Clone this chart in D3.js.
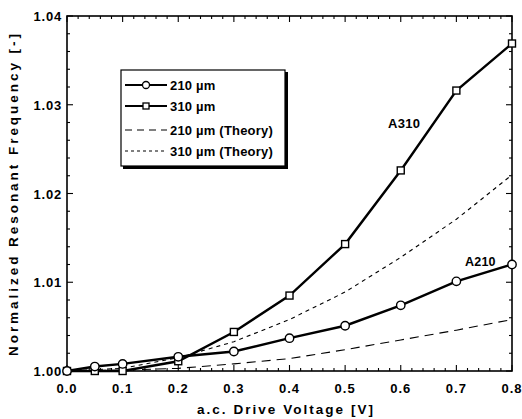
<!DOCTYPE html>
<html>
<head>
<meta charset="utf-8">
<script src="https://cdn.jsdelivr.net/npm/d3@7"></script>
<style>
  body { margin: 0; background: #fff; }
  text { font-family: "Liberation Sans", Arial, sans-serif; font-weight: bold; fill: #000; }
</style>
</head>
<body>
<div id="chart"></div>
<script>
const width = 522;
const height = 419;
const margin = { top: 16, right: 10, bottom: 48, left: 67 };

// measured points
const volt210 = [0.0, 0.05, 0.1, 0.2, 0.3, 0.4, 0.5, 0.6, 0.7, 0.8];
const freq210 = [1.0000, 1.0005, 1.0008, 1.0016, 1.0022, 1.0037, 1.0051, 1.0074, 1.0101, 1.0120];
const volt310 = [0.0, 0.05, 0.1, 0.2, 0.3, 0.4, 0.5, 0.6, 0.7, 0.8];
const freq310 = [1.0000, 1.0000, 1.0000, 1.0011, 1.0044, 1.0085, 1.0143, 1.0226, 1.0316, 1.0369];

// theory curves
const voltTheory = [0.0, 0.1, 0.2, 0.3, 0.4, 0.5, 0.6, 0.7, 0.8];
const theory210 = [1.0000, 1.0001, 1.0003, 1.0008, 1.0014, 1.0024, 1.0035, 1.0046, 1.0058];
const theory310 = [1.0000, 1.0003, 1.0015, 1.0033, 1.0058, 1.0089, 1.0128, 1.0171, 1.0221];

const xTicks = [0.0, 0.1, 0.2, 0.3, 0.4, 0.5, 0.6, 0.7, 0.8];
const yTicks = [1.00, 1.01, 1.02, 1.03, 1.04];

const legendLabels = ['210 \u00b5m', '310 \u00b5m', '210 \u00b5m (Theory)', '310 \u00b5m (Theory)'];

const svg = d3.select('#chart')
  .append('svg')
  .attr('width', width)
  .attr('height', height);

const x = d3.scaleLinear().domain([0, 0.8]).range([margin.left, width - margin.right]);
const y = d3.scaleLinear().domain([1.0, 1.04]).range([height - margin.bottom, margin.top]);

const x0 = x(0), x1 = x(0.8), y0 = y(1.0), y1 = y(1.04);

// frame
svg.append('rect')
  .attr('x', x0).attr('y', y1)
  .attr('width', x1 - x0).attr('height', y0 - y1)
  .attr('fill', 'none').attr('stroke', '#000').attr('stroke-width', 1.6);

// ticks on all four sides, pointing inward
const xMinor = d3.range(0, 0.8001, 0.02);
const yMinor = d3.range(1.0, 1.04001, 0.002);
const ticks = svg.append('g').attr('stroke', '#000').attr('stroke-width', 1.1);

function isMajor(v, step) {
  return Math.abs(v / step - Math.round(v / step)) < 1e-6;
}

xMinor.forEach((v) => {
  const len = isMajor(v, 0.1) ? 6 : 3;
  ticks.append('line').attr('x1', x(v)).attr('x2', x(v)).attr('y1', y0).attr('y2', y0 - len);
  ticks.append('line').attr('x1', x(v)).attr('x2', x(v)).attr('y1', y1).attr('y2', y1 + len);
});
yMinor.forEach((v) => {
  const len = isMajor(v - 1, 0.01) ? 6 : 3;
  ticks.append('line').attr('y1', y(v)).attr('y2', y(v)).attr('x1', x0).attr('x2', x0 + len);
  ticks.append('line').attr('y1', y(v)).attr('y2', y(v)).attr('x1', x1).attr('x2', x1 - len);
});

// tick labels
svg.append('g').selectAll('text')
  .data(xTicks)
  .enter()
  .append('text')
  .attr('x', d => x(d))
  .attr('y', y0 + 22)
  .attr('text-anchor', 'middle')
  .attr('font-size', 13)
  .attr('letter-spacing', 1)
  .text(d => d.toFixed(1));

svg.append('g').selectAll('text')
  .data(yTicks)
  .enter()
  .append('text')
  .attr('x', x0 - 5)
  .attr('y', d => y(d) + 5)
  .attr('text-anchor', 'end')
  .attr('font-size', 13)
  .attr('letter-spacing', 0.8)
  .text(d => d.toFixed(2));

// axis titles
svg.append('text')
  .attr('x', 197)
  .attr('y', 414)
  .attr('font-size', 13.5)
  .attr('textLength', 176)
  .attr('lengthAdjust', 'spacing')
  .text('a.c. Drive Voltage   [V]');

svg.append('text')
  .attr('transform', 'translate(18, 356) rotate(-90)')
  .attr('font-size', 13.5)
  .attr('textLength', 322)
  .attr('lengthAdjust', 'spacing')
  .text('Normalized Resonant Frequency   [-]');

// lines
const line = (xs, ys) => d3.line().x((d, i) => x(xs[i])).y(d => y(d))(ys);

svg.append('path')
  .attr('d', line(voltTheory, theory210))
  .attr('fill', 'none').attr('stroke', '#000').attr('stroke-width', 1.1)
  .attr('stroke-dasharray', '9,6');

svg.append('path')
  .attr('d', line(voltTheory, theory310))
  .attr('fill', 'none').attr('stroke', '#000').attr('stroke-width', 1.1)
  .attr('stroke-dasharray', '4,4');

svg.append('path')
  .attr('d', line(volt310, freq310))
  .attr('fill', 'none').attr('stroke', '#000').attr('stroke-width', 2.4);

svg.append('path')
  .attr('d', line(volt210, freq210))
  .attr('fill', 'none').attr('stroke', '#000').attr('stroke-width', 2.4);

// markers
svg.append('g').selectAll('rect')
  .data(freq310)
  .enter()
  .append('rect')
  .attr('x', (d, i) => x(volt310[i]) - 3.5)
  .attr('y', d => y(d) - 3.5)
  .attr('width', 7).attr('height', 7)
  .attr('fill', '#fff').attr('stroke', '#000').attr('stroke-width', 1.4);

svg.append('g').selectAll('circle')
  .data(freq210)
  .enter()
  .append('circle')
  .attr('cx', (d, i) => x(volt210[i]))
  .attr('cy', d => y(d))
  .attr('r', 4.2)
  .attr('fill', '#fff').attr('stroke', '#000').attr('stroke-width', 1.4);

// curve labels
svg.append('text').attr('x', 388).attr('y', 128).attr('font-size', 13).attr('letter-spacing', 0.3).text('A310');
svg.append('text').attr('x', 465).attr('y', 266).attr('font-size', 12.5).attr('letter-spacing', 0.2).text('A210');

// legend
const lg = svg.append('g');
lg.append('rect')
  .attr('x', 123).attr('y', 72).attr('width', 165).attr('height', 97)
  .attr('fill', '#000');
lg.append('rect')
  .attr('x', 121).attr('y', 70).attr('width', 164).attr('height', 96)
  .attr('fill', '#fff').attr('stroke', '#000').attr('stroke-width', 1.2);

const rowY = [85, 106, 130, 151];
const dashes = [null, null, '7,5', '3,3'];
legendLabels.forEach((label, i) => {
  const yy = rowY[i];
  lg.append('line')
    .attr('x1', 125).attr('x2', 167).attr('y1', yy).attr('y2', yy)
    .attr('stroke', '#000')
    .attr('stroke-width', i < 2 ? 2.2 : 1.1)
    .attr('stroke-dasharray', dashes[i]);
  if (i === 0) {
    lg.append('circle').attr('cx', 146).attr('cy', yy).attr('r', 3.5)
      .attr('fill', '#fff').attr('stroke', '#000').attr('stroke-width', 1.3);
  } else if (i === 1) {
    lg.append('rect').attr('x', 143).attr('y', yy - 3).attr('width', 6).attr('height', 6)
      .attr('fill', '#fff').attr('stroke', '#000').attr('stroke-width', 1.3);
  }
  lg.append('text')
    .attr('x', 170).attr('y', yy + 4.5)
    .attr('font-size', 13)
    .attr('letter-spacing', 0.2)
    .text(label);
});
</script>
</body>
</html>
